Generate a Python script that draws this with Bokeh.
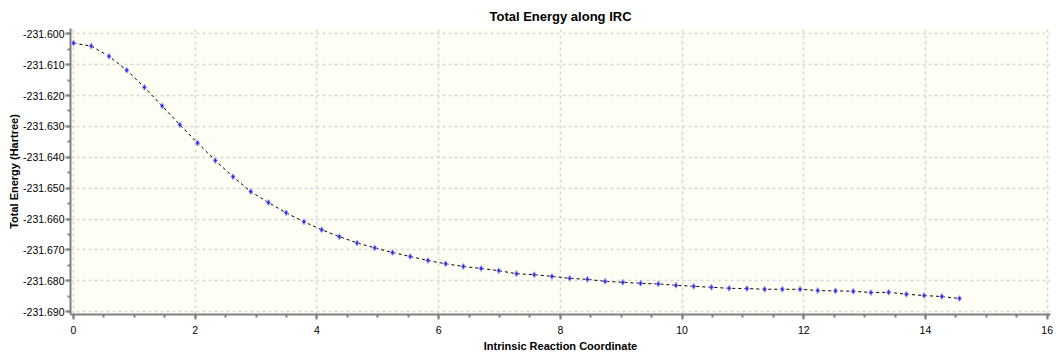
from bokeh.plotting import figure
from bokeh.models import Range1d, FixedTicker, PrintfTickFormatter
from bokeh.embed import file_html
from bokeh.resources import INLINE

irc = [0.000, 0.291, 0.582, 0.874, 1.165, 1.456, 1.747, 2.038, 2.330, 2.621,
       2.912, 3.203, 3.494, 3.786, 4.077, 4.368, 4.659, 4.950, 5.242, 5.533,
       5.824, 6.115, 6.406, 6.698, 6.989, 7.280, 7.571, 7.862, 8.154, 8.445,
       8.736, 9.027, 9.318, 9.610, 9.901, 10.192, 10.483, 10.774, 11.066, 11.357,
       11.648, 11.939, 12.230, 12.522, 12.813, 13.104, 13.395, 13.686, 13.978, 14.269,
       14.560]
energy = [-231.60302, -231.60399, -231.60730, -231.61180, -231.61736, -231.62337,
          -231.62948, -231.63536, -231.64105, -231.64629, -231.65111, -231.65464,
          -231.65799, -231.66088, -231.66345, -231.66570, -231.66773, -231.66933,
          -231.67084, -231.67213, -231.67341, -231.67448, -231.67534, -231.67599,
          -231.67673, -231.67769, -231.67801, -231.67856, -231.67920, -231.67952,
          -231.68016, -231.68049, -231.68081, -231.68100, -231.68145, -231.68177,
          -231.68209, -231.68241, -231.68251, -231.68273, -231.68273, -231.68273,
          -231.68315, -231.68325, -231.68338, -231.68380, -231.68370, -231.68434,
          -231.68476, -231.68508, -231.68572]
x_ticks = [0, 2, 4, 6, 8, 10, 12, 14, 16]
y_ticks = [-231.690, -231.680, -231.670, -231.660, -231.650, -231.640,
           -231.630, -231.620, -231.610, -231.600]

FONT = "Liberation Sans"

p = figure(width=1057, height=354, output_backend="svg", toolbar_location=None,
           x_range=Range1d(-0.05, 16.055), y_range=Range1d(-231.6909, -231.5983),
           title="Total Energy along IRC")
p.min_border_left = 70
p.min_border_right = 7
p.min_border_top = 28
p.min_border_bottom = 0
p.background_fill_color = "#fefef5"
p.border_fill_color = "white"
p.outline_line_color = None

p.title.align = "center"
p.title.text_font = FONT
p.title.text_font_size = "13px"
p.title.text_font_style = "bold"
p.title.text_color = "black"
p.title.standoff = 10

for ax in (p.xaxis[0], p.yaxis[0]):
    ax.axis_line_color = "#808080"
    ax.axis_line_width = 2
    ax.major_tick_line_color = "#808080"
    ax.major_tick_line_width = 2
    ax.minor_tick_line_color = "#808080"
    ax.minor_tick_line_width = 2
    ax.major_tick_out = 5
    ax.major_tick_in = 0
    ax.minor_tick_out = 3
    ax.minor_tick_in = 0
    ax.major_label_text_font = FONT
    ax.major_label_text_font_size = "10.5px"
    ax.major_label_text_color = "black"
    ax.axis_label_text_font = FONT
    ax.axis_label_text_font_size = "11px"
    ax.axis_label_text_font_style = "bold"
    ax.axis_label_text_color = "black"

p.xaxis.axis_label = "Intrinsic Reaction Coordinate"
p.yaxis.axis_label = "Total Energy (Hartree)"
p.xaxis.ticker = FixedTicker(ticks=x_ticks, minor_ticks=[i * 0.5 for i in range(33)])
p.yaxis.ticker = FixedTicker(ticks=y_ticks,
                             minor_ticks=[-231.690 + i * 0.005 for i in range(19)])
p.yaxis.formatter = PrintfTickFormatter(format="%.3f")
p.xaxis.major_label_standoff = 6
p.xaxis.axis_label_standoff = 3
p.yaxis.major_label_standoff = 1
p.yaxis.axis_label_standoff = 0

for g in (p.xgrid[0], p.ygrid[0]):
    g.grid_line_color = "#d8d8d8"
    g.grid_line_dash = "3 3"
    g.grid_line_width = 1.5

p.line(irc, energy, line_color="black", line_width=1, line_dash="3 3")
p.scatter(irc, energy, marker="diamond", size=6, fill_color="#2a2aff",
          line_color="#a8a8e0", line_width=1)

open("out.html", "w").write(file_html(p, INLINE))
